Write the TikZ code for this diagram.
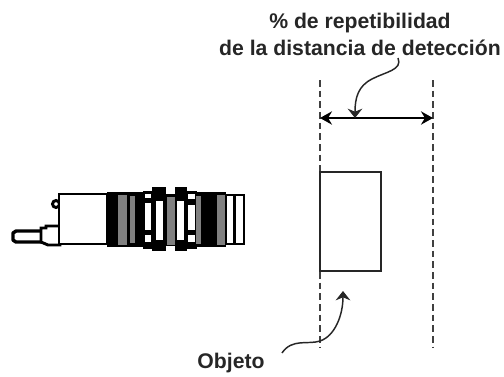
\documentclass[tikz,border=0pt]{standalone}
\usepackage{fontspec}
\setmainfont{Liberation Sans}
\usetikzlibrary{arrows.meta}
\tikzset{
 lab/.style={font=\fontsize{15.9}{20.2}\selectfont\bfseries,text=black!85,align=center,inner sep=0pt},
 guide/.style={draw=black!75,line width=1.3pt,dash pattern=on 5pt off 3pt},
 dim/.style={draw=black,line width=1.2pt,{Stealth[length=9pt,width=10pt]}-{Stealth[length=9pt,width=10pt]}},
 pointer/.style={draw=black!85,line width=1.1pt,-{Stealth[length=7pt,width=11pt]}},
 obj/.style={draw=black!85,line width=2.1pt,fill=white},
 ol/.style={draw=black,line width=2.2pt,fill=white},
 bk/.style={fill=black},
 gr/.style={fill=black!50},
 wh/.style={fill=white}
}
\begin{document}
\begin{tikzpicture}[x=.75pt,y=-.75pt]
\useasboundingbox (0,0) rectangle (504,376);
% texts
\node[lab] (title) at (360,34) {\% de repetibilidad\\de la distancia de detección};
\node[lab] (objeto) at (231,363) {Objeto};
% guides
\coordinate (gl1) at (320,80); \coordinate (gl2) at (320,347);
\coordinate (gr1) at (433,80); \coordinate (gr2) at (433,347);
\draw[guide] (gl1) -- (gl2);
\draw[guide] (gr1) -- (gr2);
% dimension
\coordinate (dl) at (320,118); \coordinate (dr) at (433,118);
\draw[dim] (dl) -- (dr);
% object
\draw[obj] (320,172) rectangle (381,271);
% pointers
\coordinate (p1) at (398,58); \coordinate (p1e) at (355,118);
\draw[pointer] (p1) .. controls (403,70) and (385,72) .. (372,79) .. controls (358,86) and (355,98) .. (p1e);
\coordinate (p2) at (282,353); \coordinate (p2e) at (343,291);
\draw[pointer] (p2) .. controls (292,338) and (308,345) .. (320,341) .. controls (335,336) and (343,315) .. (p2e);
% sensor: cable and rear
\draw[ol,line width=2.6pt,line join=round] (42,231) -- (16,231) -- (13,233) -- (13,240) -- (16,242) -- (42,242);
\draw[ol] (41,228) -- (46,228) -- (46,226) -- (60,226) -- (60,245) -- (48,245) -- (41,242) -- cycle;
\draw[ol] (56,204) circle (3.5);
\draw[ol] (59,194) rectangle (107,244);
% threads: silhouette
\fill[bk] (107,192) rectangle (143,247);
\fill[bk] (143,191) rectangle (152,249);
\fill[bk] (152,187) rectangle (166,251);
\fill[bk] (166,194) rectangle (175,246);
\fill[bk] (175,187) rectangle (187,251);
\fill[bk] (187,191) rectangle (197,249);
\fill[bk] (197,192) rectangle (226,247);
% threads: details
\fill[gr] (118,195) rectangle (127,245);
\fill[gr] (130,196) rectangle (135,243);
\fill[wh] (145,203) rectangle (151,230);
\fill[wh] (145,235) rectangle (151,242);
\fill[wh] (145,194) rectangle (151,198);
\fill[wh] (156,201) rectangle (163,240);
\fill[gr] (167,197) rectangle (175,245);
\fill[wh] (177,201) rectangle (184,240);
\fill[wh] (188,205) rectangle (195,230);
\fill[wh] (188,235) rectangle (195,242);
\fill[wh] (188,194) rectangle (195,199);
\fill[gr] (196,196) rectangle (201,244);
\fill[gr] (217,195) rectangle (226,245);
\draw[black,line width=1.3pt,fill=white] (226,195) rectangle (244,244);
\fill[bk] (233,195) rectangle (236,244);
\end{tikzpicture}
\end{document}
